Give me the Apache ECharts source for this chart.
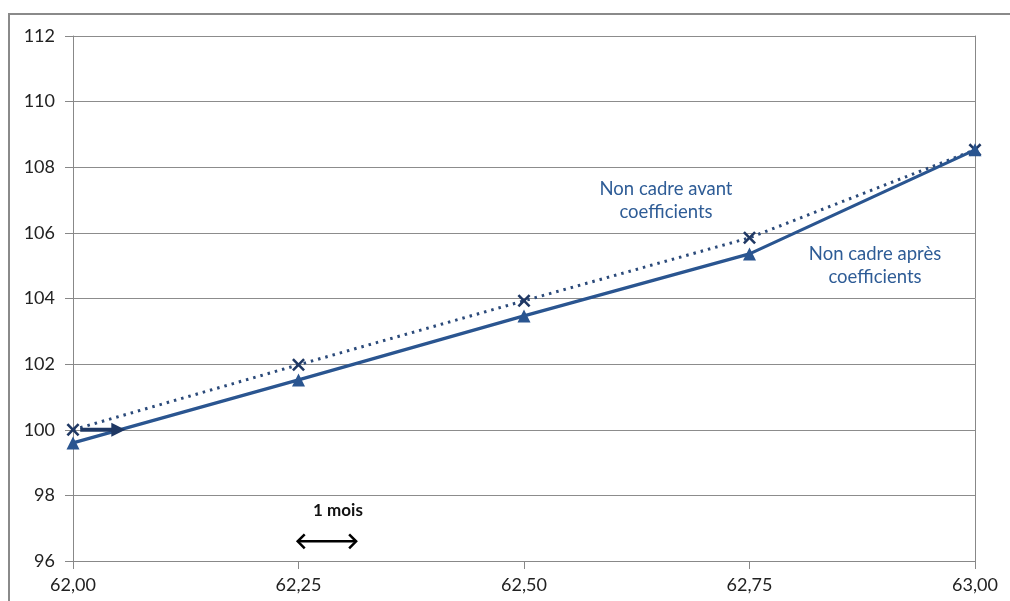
<!DOCTYPE html>
<html>
<head>
<meta charset="utf-8">
<script src="https://cdn.jsdelivr.net/npm/echarts@6/dist/echarts.min.js"></script>
<style>
  html, body { margin: 0; padding: 0; background: #fff; }
  #chart { width: 1010px; height: 601px; }
</style>
</head>
<body>
<div id="chart"></div>
<script>
// Ages (years) at which the index is computed
const ages = [62.00, 62.25, 62.50, 62.75, 63.00];
// Non cadre, before coefficients
const avantValues = [100.0, 101.98, 103.93, 105.85, 108.53];
// Non cadre, after coefficients
const apresValues = [99.6, 101.52, 103.47, 105.36, 108.53];
// Horizontal shift arrow at 100 (start age, end age, level)
const shiftArrow = [62.008, 62.058, 100.0];
// "1 mois" scale arrow (start age, end age, level)
const moisArrow = [62.248, 62.315, 96.6];

const blue = '#2A5590';
const navy = '#1F3864';
const labelBlue = '#2E5C96';
const font = 'Lato, "Open Sans", sans-serif';
const crossPath = 'path://M0,1.4 L1.4,0 L5,3.6 L8.6,0 L10,1.4 L6.4,5 L10,8.6 L8.6,10 L5,6.4 L1.4,10 L0,8.6 L3.6,5 Z';

const chart = echarts.init(document.getElementById('chart'));

function centeredText(text, x, y, fontSpec, color) {
  return {
    type: 'text', x: x, y: y, silent: true,
    style: {
      text: text, fill: color, font: fontSpec, lineHeight: 23,
      textAlign: 'center', align: 'center', textVerticalAlign: 'top', verticalAlign: 'top'
    }
  };
}

chart.setOption({
  animation: false,
  backgroundColor: '#fff',
  grid: { left: 73, right: 35, top: 36, bottom: 40 },
  xAxis: {
    type: 'value',
    min: 62, max: 63, interval: 0.25,
    axisLine: { show: true, lineStyle: { color: '#888', width: 1 } },
    axisTick: { show: true, inside: false, length: 8, lineStyle: { color: '#888' } },
    splitLine: { show: false },
    axisLabel: {
      color: '#222', fontFamily: font, fontSize: 18, margin: 15,
      formatter: v => v.toFixed(2).replace('.', ',')
    }
  },
  yAxis: [{
    type: 'value',
    min: 96, max: 112, interval: 2,
    axisLine: { show: true, lineStyle: { color: '#888', width: 1 } },
    axisTick: { show: true, length: 8, lineStyle: { color: '#888' } },
    splitLine: { show: true, lineStyle: { color: '#8c8c8c', width: 1 } },
    axisLabel: { color: '#222', fontFamily: font, fontSize: 18, margin: 18 }
  }, {
    type: 'value',
    min: 96, max: 112, interval: 2,
    position: 'right',
    axisLine: { show: true, lineStyle: { color: '#888', width: 1 } },
    axisTick: { show: false },
    axisLabel: { show: false },
    splitLine: { show: false }
  }],
  series: [
    {
      name: 'Non cadre avant coefficients',
      type: 'line',
      data: ages.map((a, i) => [a, avantValues[i]]),
      lineStyle: { color: '#2B4A7A', width: 3, type: [2.5, 5] },
      symbol: crossPath,
      symbolSize: 13,
      itemStyle: { color: navy },
      z: 3
    },
    {
      name: 'Non cadre après coefficients',
      type: 'line',
      data: ages.map((a, i) => [a, apresValues[i]]),
      lineStyle: { color: blue, width: 3.2 },
      symbol: 'triangle',
      symbolSize: 13,
      itemStyle: { color: blue },
      z: 4
    },
    {
      // annotation arrows drawn in data coordinates
      type: 'custom',
      coordinateSystem: 'cartesian2d',
      data: [[0]],
      z: 5,
      renderItem: (params, api) => {
        const s0 = api.coord([shiftArrow[0], shiftArrow[2]]);
        const s1 = api.coord([shiftArrow[1], shiftArrow[2]]);
        const m0 = api.coord([moisArrow[0], moisArrow[2]]);
        const m1 = api.coord([moisArrow[1], moisArrow[2]]);
        const h = 7;
        return {
          type: 'group',
          children: [
            { type: 'line', shape: { x1: s0[0], y1: s0[1], x2: s1[0] - 10, y2: s1[1] },
              style: { stroke: navy, lineWidth: 4 } },
            { type: 'polygon', shape: { points: [[s1[0], s1[1]], [s1[0] - 14, s1[1] - 7], [s1[0] - 14, s1[1] + 7]] },
              style: { fill: navy } },
            { type: 'line', shape: { x1: m0[0] + 1, y1: m0[1], x2: m1[0] - 1, y2: m1[1] },
              style: { stroke: '#000', lineWidth: 2.5 } },
            { type: 'polyline', shape: { points: [[m0[0] + h + 1, m0[1] - h], [m0[0] + 1, m0[1]], [m0[0] + h + 1, m0[1] + h]] },
              style: { stroke: '#000', lineWidth: 2.5, fill: null } },
            { type: 'polyline', shape: { points: [[m1[0] - h - 1, m1[1] - h], [m1[0] - 1, m1[1]], [m1[0] - h - 1, m1[1] + h]] },
              style: { stroke: '#000', lineWidth: 2.5, fill: null } }
          ]
        };
      }
    }
  ],
  graphic: [
    { type: 'rect', shape: { x: 9, y: 14, width: 1100, height: 700 },
      style: { fill: null, stroke: '#8a8a8a', lineWidth: 2 }, silent: true, z: -1 },
    centeredText('Non cadre avant\ncoefficients', 666, 178, '18.5px ' + font, labelBlue),
    centeredText('Non cadre après\ncoefficients', 875, 243, '18.5px ' + font, labelBlue),
    centeredText('1 mois', 338, 499, 'bold 17px ' + font, '#111')
  ]
});
</script>
</body>
</html>
